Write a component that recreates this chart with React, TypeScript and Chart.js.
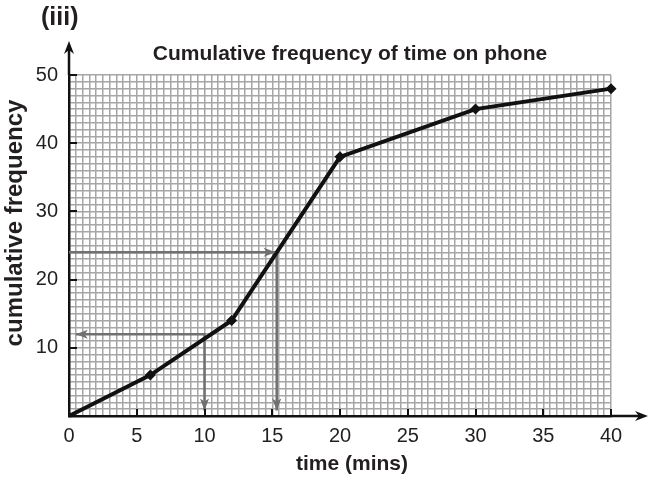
import { useEffect, useRef } from "react";
import { Chart, registerables } from "chart.js";

Chart.register(...registerables);

// ---- data ----
const timeMins = [0, 6, 12, 20, 30, 40];
const cumulativeFrequency = [0, 6, 14, 38, 45, 48];
const xTickValues = [0, 5, 10, 15, 20, 25, 30, 35, 40];
const yTickValues = [10, 20, 30, 40, 50];
// reading lines: frequency read across, time read down
const readingFrequencies = [24, 12];
const readingTimes = [15.33, 10];
const readingStartTimes = [0, 0.5]; // where each horizontal reading line meets the y-axis side
const readingArrowFreqTip = 0.8; // vertical arrows stop just above the axis

const FONT = "'Liberation Sans', Arial, Helvetica, sans-serif";
const INK = "#231f20";
const GREY = "#707070";

function arrowHead(
  ctx: CanvasRenderingContext2D,
  tx: number,
  ty: number,
  dx: number,
  dy: number,
  len: number,
  half: number,
  notch: number,
  color: string
) {
  const px = -dy;
  const py = dx;
  const bx = tx - dx * len;
  const by = ty - dy * len;
  ctx.beginPath();
  ctx.moveTo(tx, ty);
  ctx.lineTo(bx + px * half, by + py * half);
  ctx.lineTo(tx - dx * (len - notch), ty - dy * (len - notch));
  ctx.lineTo(bx - px * half, by - py * half);
  ctx.closePath();
  ctx.fillStyle = color;
  ctx.fill();
}

const overlayPlugin = {
  id: "overlay",
  afterDatasetsDraw(chart: any) {
    const { ctx, scales } = chart;
    const x = scales.x;
    const y = scales.y;
    ctx.save();
    const f0 = readingFrequencies[0];
    const t0 = readingTimes[0];
    arrowHead(ctx, x.getPixelForValue(t0) - 1, y.getPixelForValue(f0), 1, 0, 12, 4.5, 3, GREY);
    arrowHead(ctx, x.getPixelForValue(t0), y.getPixelForValue(readingArrowFreqTip), 0, 1, 12, 4.5, 3, GREY);
    const f1 = readingFrequencies[1];
    const t1 = readingTimes[1];
    arrowHead(ctx, x.getPixelForValue(readingStartTimes[1]), y.getPixelForValue(f1), -1, 0, 12, 4.5, 3, GREY);
    arrowHead(ctx, x.getPixelForValue(t1), y.getPixelForValue(readingArrowFreqTip), 0, 1, 12, 4.5, 3, GREY);
    ctx.restore();
  },
  afterDraw(chart: any) {
    const { ctx, chartArea: a, scales } = chart;
    const x = scales.x;
    const y = scales.y;
    ctx.save();
    ctx.strokeStyle = "#111";
    ctx.lineWidth = 2.5;
    ctx.beginPath();
    ctx.moveTo(a.left, a.top);
    ctx.lineTo(a.left, a.top - 28);
    ctx.moveTo(a.right, a.bottom);
    ctx.lineTo(a.right + 30, a.bottom);
    ctx.stroke();
    arrowHead(ctx, a.left, a.top - 34, 0, -1, 13, 5, 4, "#111");
    arrowHead(ctx, a.right + 37, a.bottom, 1, 0, 13, 5, 4, "#111");
    ctx.lineWidth = 2;
    ctx.beginPath();
    for (const v of yTickValues) {
      const py = Math.round(y.getPixelForValue(v));
      ctx.moveTo(a.left, py);
      ctx.lineTo(a.left + 8, py);
    }
    for (const v of xTickValues) {
      if (v === 0) continue;
      const px = Math.round(x.getPixelForValue(v));
      ctx.moveTo(px, a.bottom);
      ctx.lineTo(px, a.bottom - 7);
    }
    ctx.stroke();

    ctx.fillStyle = INK;
    ctx.textBaseline = "alphabetic";
    ctx.font = `bold 25px ${FONT}`;
    ctx.textAlign = "left";
    ctx.fillText("(iii)", 41, 25);

    ctx.font = `bold 21px ${FONT}`;
    ctx.textAlign = "center";
    ctx.fillText("Cumulative frequency of time on phone", 350, 60);
    ctx.fillText("time (mins)", 352, 470);

    ctx.translate(22, 223);
    ctx.rotate(-Math.PI / 2);
    ctx.font = `bold 24px ${FONT}`;
    ctx.fillText("cumulative frequency", 0, 0);
    ctx.restore();
  },
};

export default function App() {
  const ref = useRef<HTMLCanvasElement | null>(null);

  useEffect(() => {
    document.body.style.margin = "0";
    const canvas = ref.current;
    if (!canvas) return;

    const readingSets = readingFrequencies.map((f, i) => ({
      type: "line" as const,
      data: [
        { x: readingStartTimes[i], y: f },
        { x: readingTimes[i], y: f },
        { x: readingTimes[i], y: readingArrowFreqTip },
      ],
      borderColor: GREY,
      borderWidth: 2.5,
      pointRadius: 0,
      fill: false,
      tension: 0,
      order: 2,
    }));

    const chart = new Chart(canvas, {
      type: "line",
      data: {
        datasets: [
          {
            data: timeMins.map((t, i) => ({ x: t, y: cumulativeFrequency[i] })),
            borderColor: "#111",
            backgroundColor: "#111",
            borderWidth: 4,
            pointStyle: "rectRot",
            pointRadius: timeMins.map((_, i) => (i === 0 ? 0 : 5.5)),
            pointBorderWidth: 0,
            fill: false,
            tension: 0,
            clip: false as any,
            order: 1,
          },
          ...readingSets,
        ] as any,
      },
      options: {
        responsive: false,
        animation: false,
        layout: { padding: { left: 0, top: 75, right: 40, bottom: 0 } },
        plugins: {
          legend: { display: false },
          title: { display: false },
          tooltip: { enabled: false },
        },
        scales: {
          x: {
            type: "linear",
            min: 0,
            max: 40,
            afterFit: (s: any) => {
              s.height = 72;
            },
            ticks: {
              stepSize: 0.5,
              autoSkip: false,
              maxRotation: 0,
              minRotation: 0,
              padding: 8,
              color: INK,
              font: { family: FONT, size: 20 },
              callback: (v: any) => (Number(v) % 5 === 0 ? String(v) : ""),
            },
            grid: { color: "#a6a6a6", lineWidth: 1.5, drawTicks: false },
            border: { display: true, color: "#111", width: 2.5 },
          },
          y: {
            type: "linear",
            min: 0,
            max: 50,
            afterFit: (s: any) => {
              s.width = 69;
            },
            ticks: {
              stepSize: 1,
              autoSkip: false,
              padding: 11,
              color: INK,
              font: { family: FONT, size: 20 },
              callback: (v: any) => (Number(v) % 10 === 0 && Number(v) !== 0 ? String(v) : ""),
            },
            grid: { color: "#a6a6a6", lineWidth: 1.5, drawTicks: false },
            border: { display: true, color: "#111", width: 2.5 },
          },
        },
      },
      plugins: [overlayPlugin],
    });

    return () => chart.destroy();
  }, []);

  return (
    <div style={{ width: 651, height: 488 }}>
      <canvas ref={ref} width={651} height={488} style={{ display: "block" }} />
    </div>
  );
}
